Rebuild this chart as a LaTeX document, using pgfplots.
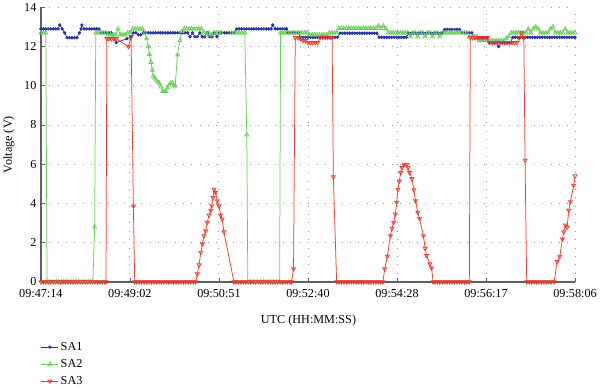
\documentclass[border=0pt]{standalone}
\usepackage{fontspec}
\setmainfont{Liberation Serif}
\usepackage{pgfplots}
\pgfplotsset{compat=1.18}
\definecolor{cSAa}{RGB}{40,52,165}
\definecolor{cSAb}{RGB}{105,205,85}
\definecolor{cSAc}{RGB}{236,58,48}
\definecolor{axgray}{RGB}{95,95,95}
\definecolor{gridgray}{RGB}{150,150,150}
\begin{document}
\begin{tikzpicture}[x=1bp,y=1bp]
\begin{axis}[
  name=main,
  width=537bp, height=276bp, scale only axis,
  xmin=0, xmax=652, ymin=0, ymax=14,
  xtick={0,108.667,217.333,326,434.667,543.333,652},
  xticklabels={09:47:14,09:49:02,09:50:51,09:52:40,09:54:28,09:56:17,09:58:06},
  ytick={0,2,4,6,8,10,12,14},
  axis lines=left,
  axis line style={draw=axgray, line width=1.3bp, -},
  tick align=inside,
  major tick length=4bp,
  tick style={draw=axgray, line width=0.8bp},
  grid=major,
  major grid style={draw=gridgray, line width=0.9bp, dash pattern=on 0.9bp off 7.5bp},
  /pgf/number format/assume math mode=true,
  ticklabel style={font=\fontsize{12.3}{14}\selectfont},
  xticklabel style={yshift=-4.5bp},
  yticklabel style={xshift=-1bp},
  label style={font=\fontsize{12.3}{14}\selectfont},
  xlabel={UTC (HH:MM:SS)},
  ylabel={Voltage (V)},
  xlabel style={at={(axis description cs:0.501,-0.141)}, anchor=center},
  ylabel style={at={(axis description cs:-0.06,0.5)}, anchor=center},
  legend style={at={(axis description cs:0.0,-0.212)}, anchor=north west, draw=none, fill=none,
     font=\fontsize{12.3}{14}\selectfont, inner sep=0pt, row sep=3.5bp},
  legend cell align=left,
  every axis plot/.append style={line width=0.75bp},
]
% SA1
\addplot[color=cSAa, mark=*, mark size=1.3bp] coordinates {
(0,12.9)(3,12.9)(6,12.9)(9,12.9)(12,12.9)(15,12.9)(18,12.9)(21,12.9)(23,13.1)(26,12.9)(29,12.7)
(32,12.45)(35,12.45)(38,12.45)(41,12.45)(44,12.45)(47,12.7)(49,12.9)(50,13.1)(53,12.9)(56,12.9)
(59,12.9)(62,12.9)(65,12.9)(68,12.9)(71,12.9)(74,12.7)(77,12.7)(80,12.7)(83,12.7)(86,12.7)
(92,12.2)(105,12.4)(110,12.5)(113,12.7)(116,12.7)(119,12.6)(122,12.6)(125,12.7)(128,12.7)
(131,12.7)(134,12.7)(137,12.7)(140,12.7)(143,12.7)(146,12.7)(149,12.7)(152,12.7)(155,12.7)
(158,12.7)(161,12.7)(164,12.7)(167,12.7)(170,12.7)(173,12.7)(176,12.7)(179,12.7)(182,12.5)
(185,12.7)(188,12.5)(191,12.5)(194,12.7)(197,12.5)(200,12.5)(203,12.7)(206,12.5)(209,12.5)
(212,12.7)(215,12.5)(218,12.7)(221,12.7)(224,12.7)(227,12.7)(230,12.7)(233,12.7)(236,12.7)
(239,12.9)(242,12.9)(245,12.9)(248,12.9)(251,12.9)(254,12.9)(257,12.9)(260,12.9)(263,12.9)
(266,12.9)(269,12.9)(272,12.9)(275,12.9)(278,12.9)(281,12.9)(283,13.1)(286,12.9)(289,12.9)
(292,12.9)(295,12.9)(298,12.9)(300,12.9)(302,12.7)(305,12.7)(308,12.7)(311,12.7)(314,12.7)
(317,12.47)(320,12.47)(323,12.47)(326,12.47)(329,12.47)(332,12.47)(335,12.47)(338,12.47)
(341,12.47)(344,12.47)(347,12.47)(350,12.47)(353,12.47)(356,12.47)(359,12.47)(362,12.47)
(365,12.68)(368,12.68)(371,12.68)(374,12.68)(377,12.68)(380,12.68)(383,12.68)(386,12.68)
(389,12.68)(392,12.68)(395,12.68)(398,12.68)(401,12.68)(404,12.68)(407,12.68)(410,12.68)
(413,12.47)(416,12.47)(419,12.47)(422,12.47)(425,12.47)(428,12.47)(431,12.47)(434,12.47)
(437,12.47)(440,12.47)(443,12.47)(446,12.47)(449,12.68)(452,12.68)(455,12.68)(458,12.68)
(461,12.68)(464,12.68)(467,12.68)(470,12.68)(473,12.68)(476,12.68)(479,12.68)(482,12.68)
(485,12.68)(488,12.68)(490,12.68)(493,12.87)(496,12.87)(499,12.87)(502,12.87)(505,12.87)
(508,12.87)(511,12.87)(514,12.7)(517,12.7)(520,12.7)(523,12.7)(526,12.7)(529,12.45)
(532,12.45)(535,12.45)(538,12.45)(541,12.45)(544,12.45)(547,12.2)(550,12.2)(553,12.2)
(556,12.2)(558.5,12.0)(561,12.2)(564,12.2)(567,12.2)(570,12.2)(573,12.2)(576,12.47)
(579,12.47)(582,12.47)(585,12.47)(588,12.47)(591,12.47)(594,12.47)(597,12.47)(600,12.47)
(603,12.47)(606,12.47)(609,12.47)(612,12.47)(615,12.47)(618,12.47)(621,12.47)(624,12.47)
(627,12.47)(630,12.47)(633,12.47)(636,12.47)(639,12.47)(642,12.47)(645,12.47)(648,12.47)
(651,12.47)(652,12.47)
};
\addlegendentry{SA1}
% SA2
\addplot[color=cSAb, mark=triangle, mark size=2.3bp, mark options={fill=white, fill opacity=0}] coordinates {
(0,12.7)(3,12.7)(6,12.7)(7.5,0)(10,0)(13,0)(16,0)(19,0)(22,0)(25,0)(28,0)(31,0)(34,0)(37,0)
(40,0)(43,0)(46,0)(49,0)(52,0)(55,0)(58,0)(61,0)(63.5,0)(65.6,2.8)(67,12.7)(70,12.7)(73,12.7)
(76,12.7)(79,12.7)(82,12.6)(85,12.6)(88,12.6)(91,12.6)(94,12.9)(97,12.6)(100,12.6)(103,12.6)
(106,12.7)(109,12.7)(112,12.9)(115,12.9)(118,12.9)(121,12.9)(124,12.9)(127.1,12.7)(129,12.4)
(131.1,12.0)(132.5,11.6)(134.4,11.2)(136,10.8)(137.2,10.5)(139,10.4)(140.5,10.3)(142.5,10.2)
(144.5,10.14)(146.5,9.95)(148.5,9.71)(150.5,9.71)(152.6,9.71)(154.5,9.9)(156.6,10.05)
(158.5,10.14)(160.6,10.14)(162.5,10.0)(163.9,10.0)(166.7,11.57)(169.6,12.3)(172.1,12.76)
(175,12.9)(178,12.9)(181,12.9)(184,12.9)(187,12.9)(190,12.9)(193,12.9)(196,12.9)(199,12.7)
(202,12.6)(205,12.7)(208,12.6)(211,12.7)(214,12.7)(217,12.7)(220,12.7)(233,12.7)(236,12.7)
(239,12.7)(242,12.7)(245,12.7)(248.9,12.7)(251.3,7.5)(252.6,0)(256,0)(260,0)(264,0)(268,0)
(272,0)(276,0)(280,0)(284,0)(288,0)(291.4,0)(292.6,12.7)(295,12.7)(298,12.7)(301,12.7)
(304,12.7)(307,12.7)(310,12.7)(313,12.7)(316,12.7)(319,12.7)(322,12.7)(325,12.7)(328,12.6)
(331,12.6)(334,12.6)(337,12.6)(340,12.6)(343,12.6)(346,12.6)(349,12.6)(352,12.7)(355,12.7)
(358,12.7)(361,12.7)(364,12.93)(367,12.93)(370,12.93)(373,12.93)(376,12.93)(379,12.93)
(382,12.93)(385,12.93)(388,12.93)(391,12.93)(394,12.93)(397,12.93)(400,12.93)(403,12.93)
(406,12.93)(409,12.93)(412,13.05)(415,12.93)(418,13.05)(421,12.93)(424,12.7)(427,12.7)
(430,12.7)(433,12.7)(436,12.7)(439,12.7)(442,12.7)(445,12.7)(448,12.7)(451,12.5)(454,12.7)
(457,12.7)(460,12.5)(463,12.7)(466,12.7)(469,12.5)(472,12.7)(475,12.7)(478,12.5)(481,12.7)
(484,12.7)(487,12.5)(490,12.7)(493,12.7)(496,12.7)(499,12.7)(502,12.7)(505,12.7)(508,12.7)
(511,12.7)(514,12.7)(517,12.7)(520,12.7)(523,12.5)(526,12.5)(529,12.5)(532,12.5)(535,12.3)
(538,12.3)(541,12.3)(544,12.3)(547,12.3)(550,12.3)(553,12.3)(556,12.3)(559,12.3)(562,12.3)
(565,12.3)(568,12.4)(571,12.5)(574,12.7)(577,12.7)(580,12.7)(583,12.7)(586,12.7)(589,12.7)
(592,12.7)(595,12.9)(598,12.7)(601,12.9)(604,13.0)(607,12.9)(610,12.7)(613,12.7)(616,12.7)
(619,12.7)(622,12.9)(625,13.0)(628,12.7)(631,12.7)(634,12.7)(637,12.7)(640,12.9)(643,12.7)
(646,12.7)(649,12.7)(652,12.7)
};
\addlegendentry{SA2}
% SA3
\addplot[color=cSAc, mark=triangle, mark size=2.3bp, mark options={rotate=180, fill=white, fill opacity=0}] coordinates {
(0,0)(3,0)(6,0)(9,0)(12,0)(15,0)(18,0)(21,0)(24,0)(27,0)(30,0)(33,0)(36,0)(39,0)(42,0)(45,0)
(48,0)(51,0)(54,0)(57,0)(60,0)(63,0)(66,0)(69,0)(72,0)(75,0)(78,0)(79.5,0)(80.5,12.4)(83,12.4)
(86,12.4)(89,12.4)(92,12.4)(106.8,12.0)(110.1,12.5)(112.9,3.86)(114.5,0)(117,0)(120,0)(123,0)
(126,0)(129,0)(132,0)(135,0)(138,0)(141,0)(144,0)(147,0)(150,0)(153,0)(156,0)(159,0)(162,0)
(165,0)(168,0)(171,0)(174,0)(177,0)(180,0)(183,0)(186,0)(189,0)(191,0.4)(193.1,0.86)
(195.1,1.5)(197.1,1.93)(199.1,2.35)(201.2,2.6)(203.1,3.03)(205.2,3.4)(207.3,3.65)(208.5,3.88)
(210.1,4.3)(211.3,4.72)(213.3,4.55)(215.3,4.13)(217.3,3.87)(219.4,3.4)(221.3,3.2)(223.4,2.55)
(235.6,0)(238,0)(241,0)(244,0)(247,0)(250,0)(253,0)(256,0)(259,0)(262,0)(265,0)(268,0)
(271,0)(274,0)(277,0)(280,0)(283,0)(286,0)(289,0)(292,0)(295,0)(298,0)(301,0)(304,0)(306,0)
(308.4,0.66)(310.5,12.45)(314,12.45)(317,12.4)(320,12.3)(323,12.3)(326,12.2)(329,12.2)
(332,12.2)(335,12.2)(338,12.2)(341,12.47)(344,12.47)(347,12.47)(350,12.47)(353,12.47)
(355.5,12.47)(357,5.35)(361,0)(364,0)(367,0)(370,0)(373,0)(376,0)(379,0)(382,0)(385,0)
(388,0)(391,0)(394,0)(397,0)(400,0)(403,0)(406,0)(409,0)(412,0)(415,0)(417.5,0)
(419.7,0.66)(422.9,1.3)(426.6,2.35)(428.6,2.72)(430.7,3.03)(432.6,3.45)(434.3,4.05)
(435.9,4.72)(437.5,5.14)(439.2,5.57)(440.7,5.82)(443.2,5.99)(446.5,5.99)(448,5.82)
(450.1,5.57)(452.9,5.26)(455.3,4.69)(457.3,4.13)(460.1,3.54)(462.2,3.23)(466.9,2.35)
(469,1.71)(470.9,1.34)(474.9,0.91)(476.9,0.7)(478.8,0)(481,0)(484,0)(487,0)(490,0)(493,0)
(496,0)(499,0)(502,0)(505,0)(508,0)(511,0)(514,0)(517,0)(520,0)(523,0)(524.2,12.45)
(527,12.45)(530,12.45)(533,12.45)(536,12.45)(539,12.45)(542,12.45)(545,12.45)(548,12.2)
(551,12.2)(554,12.2)(557,12.2)(560,12.2)(563,12.2)(566,12.2)(569,12.2)(572,12.2)(575,12.2)
(578,12.2)(581,12.2)(584,12.45)(587,12.7)(589.5,12.45)(591,6.2)(593,0)(596,0)(599,0)(602,0)
(605,0)(608,0)(611,0)(614,0)(617,0)(620,0)(623,0)(626.5,0)(630.2,1.03)(633.4,1.3)
(636.6,2.18)(638.3,2.55)(640.3,2.89)(642.3,2.78)(644.4,3.65)(646.3,4.08)(650.4,4.92)(652,5.4)
};
\addlegendentry{SA3}
\end{axis}
\end{tikzpicture}
\end{document}
